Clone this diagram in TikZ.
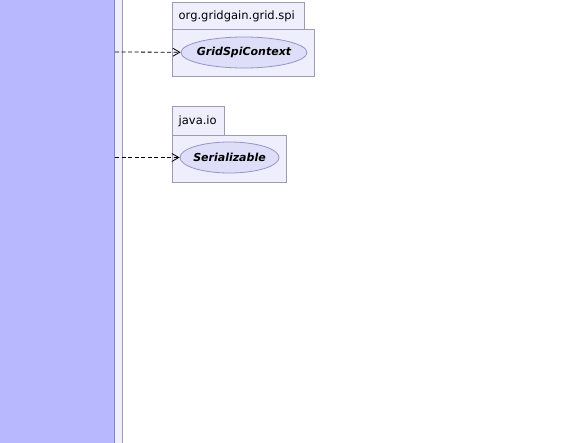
\documentclass[tikz,border=0pt]{standalone}
\usepackage{fontspec}
\setmainfont{DejaVu Sans}
\usetikzlibrary{arrows.meta,shapes.geometric}
\definecolor{classblue}{HTML}{B8B8FF}
\definecolor{classedge}{HTML}{8484C4}
\definecolor{pkgfill}{HTML}{EEEEFC}
\definecolor{pkgedge}{HTML}{9C9CB0}
\definecolor{ellfill}{HTML}{DEDEF8}
\definecolor{elledge}{HTML}{9494C8}
\tikzset{
  pkgbox/.style={draw=pkgedge, fill=pkgfill, line width=0.8pt},
  pkglabel/.style={font=\fontsize{11.5}{13}\selectfont, anchor=west, inner sep=0pt},
  iface/.style={ellipse, draw=elledge, fill=ellfill, line width=0.8pt, inner sep=0pt,
     font=\fontsize{11}{13}\selectfont\bfseries\itshape},
  dep/.style={dashed, dash pattern=on 4pt off 2.5pt, line width=0.8pt, -{Straight Barb[length=7pt,width=8pt,line width=0.8pt]}}
}
\begin{document}
\begin{tikzpicture}[x=1pt,y=-1pt]
\useasboundingbox[fill=white] (0,0) rectangle (567,442);
% left class column
\fill[pkgfill] (-5,-5) rectangle (122,447);
\draw[pkgedge, line width=0.9pt] (122,-5) -- (122,447);
\fill[classblue] (-5,-5) rectangle (114.5,447);
\draw[classedge, line width=1pt] (114.5,-5) -- (114.5,447);
\coordinate (src1) at (115,52);
\coordinate (src2) at (115,157.5);
% package org.gridgain.grid.spi
\draw[pkgbox] (172.5,2.5) rectangle (304.5,29);
\draw[pkgbox] (172.5,29) rectangle (314.5,76);
\node[pkglabel] (p1) at (178.5,16) {org.gridgain.grid.spi};
\node[iface, minimum width=126pt, minimum height=31pt] (gsc) at (244,52.5) {\makebox[0pt]{GridSpiContext}};
% package java.io
\draw[pkgbox] (172.5,106) rectangle (224.5,135);
\draw[pkgbox] (172.5,135) rectangle (286.5,182);
\node[pkglabel] (p2) at (178.5,121) {java.io};
\node[iface, minimum width=99pt, minimum height=31pt] (ser) at (229.5,157.5) {\makebox[0pt]{Serializable}};
% dependencies
\draw[dep] (src1) -- (gsc);
\draw[dep] (src2) -- (ser);
\end{tikzpicture}
\end{document}
